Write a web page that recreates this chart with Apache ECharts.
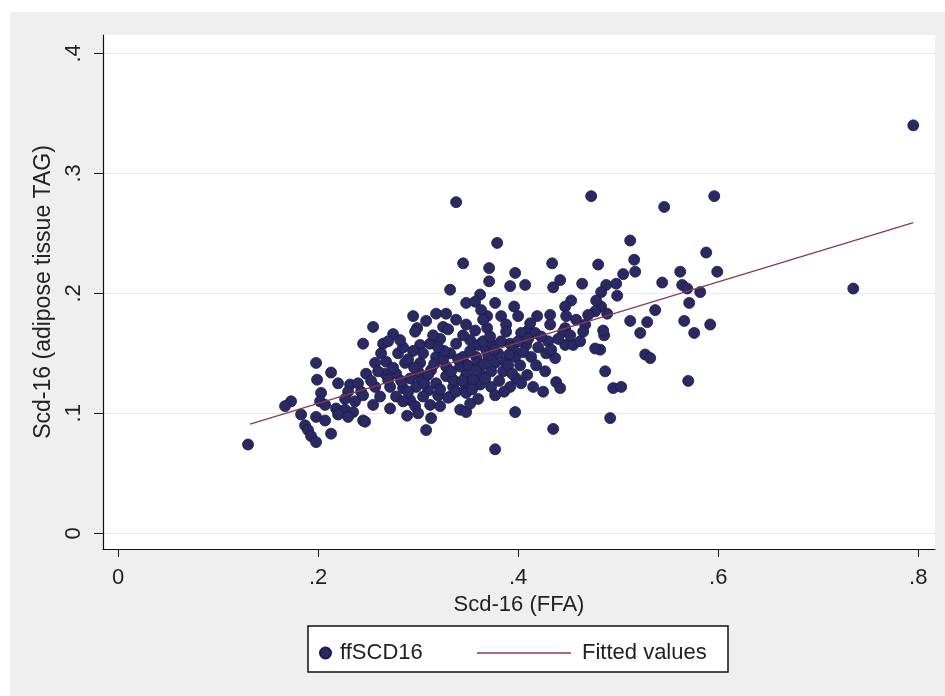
<!DOCTYPE html>
<html><head><meta charset="utf-8">
<script src="https://cdn.jsdelivr.net/npm/echarts@6/dist/echarts.min.js"></script>
<style>html,body{margin:0;padding:0;background:#fff}#c{width:945px;height:696px}</style>
</head><body><div id="c"></div>
<script>
const xTicks = [0, 0.2, 0.4, 0.6, 0.8];
const yTicks = [0, 0.1, 0.2, 0.3, 0.4];
const xTitle = 'Scd-16 (FFA)';
const yTitle = 'Scd-16 (adipose tissue TAG)';
const scatterName = 'ffSCD16';
const fitName = 'Fitted values';
// points: [FFA, TAG]
const scdPoints = [
[0.596,0.281],[0.546,0.272],[0.512,0.244],[0.588,0.234],[0.516,0.228],[0.517,0.218],[0.505,0.216],[0.498,0.208],[0.488,0.207],
[0.599,0.218],[0.562,0.218],[0.544,0.209],[0.564,0.207],[0.569,0.204],[0.582,0.201],[0.735,0.204],[0.499,0.198],[0.483,0.189],
[0.489,0.183],[0.537,0.186],[0.571,0.192],[0.512,0.177],[0.529,0.176],[0.566,0.177],[0.592,0.174],[0.522,0.167],[0.576,0.167],
[0.486,0.165],[0.482,0.153],[0.527,0.149],[0.532,0.146],[0.487,0.135],[0.570,0.127],[0.495,0.121],[0.503,0.122],[0.795,0.340],
[0.338,0.276],[0.473,0.281],
[0.379,0.242],[0.434,0.225],[0.480,0.224],[0.371,0.221],[0.397,0.217],[0.371,0.210],[0.392,0.206],[0.407,0.207],[0.442,0.211],
[0.435,0.205],[0.464,0.208],[0.483,0.201],[0.377,0.192],[0.396,0.189],[0.400,0.181],[0.383,0.181],[0.388,0.174],[0.419,0.181],
[0.432,0.182],[0.453,0.194],[0.447,0.189],[0.448,0.181],[0.478,0.194],[0.477,0.185],[0.432,0.174],[0.447,0.171],[0.467,0.174],
[0.485,0.169],[0.410,0.169],[0.369,0.181],[0.369,0.171],
[0.345,0.225],[0.332,0.203],[0.362,0.199],[0.348,0.192],[0.357,0.193],[0.318,0.183],[0.328,0.183],[0.295,0.181],[0.363,0.186],
[0.365,0.178],[0.255,0.172],[0.299,0.171],[0.325,0.172],[0.348,0.174],[0.357,0.169],[0.275,0.166],
[0.245,0.158],[0.198,0.142],[0.213,0.134],[0.199,0.128],[0.220,0.125],[0.232,0.124],[0.240,0.125],[0.230,0.118],[0.243,0.118],
[0.203,0.117],[0.173,0.110],[0.167,0.106],[0.202,0.110],[0.207,0.107],[0.218,0.104],[0.227,0.103],[0.235,0.101],[0.220,0.099],
[0.230,0.097],[0.245,0.094],[0.183,0.099],[0.198,0.097],[0.207,0.094],[0.187,0.090],[0.190,0.086],[0.193,0.081],[0.213,0.083],
[0.198,0.076],[0.130,0.074],
[0.297,0.168],[0.265,0.158],[0.302,0.157],[0.312,0.158],[0.322,0.162],[0.338,0.158],[0.352,0.161],[0.360,0.157],[0.332,0.150],
[0.345,0.147],[0.358,0.147],[0.368,0.153],[0.257,0.142],[0.268,0.143],[0.287,0.142],[0.302,0.142],[0.313,0.136],[0.328,0.139],
[0.342,0.139],[0.248,0.133],[0.267,0.133],[0.278,0.133],[0.292,0.129],[0.303,0.129],[0.328,0.131],[0.348,0.132],[0.362,0.133],
[0.257,0.122],[0.272,0.122],[0.285,0.121],[0.298,0.122],[0.310,0.119],[0.318,0.125],[0.335,0.122],[0.348,0.122],[0.362,0.124],
[0.245,0.115],[0.262,0.114],[0.278,0.114],[0.292,0.111],[0.305,0.114],[0.320,0.115],[0.332,0.114],[0.348,0.117],[0.255,0.107],
[0.285,0.110],[0.297,0.106],[0.312,0.107],[0.330,0.113],[0.360,0.112],[0.342,0.103],[0.348,0.101],[0.247,0.093],[0.313,0.096],
[0.308,0.086],
[0.388,0.168],[0.403,0.167],[0.417,0.167],[0.445,0.168],[0.465,0.168],[0.373,0.158],[0.392,0.158],[0.408,0.157],[0.428,0.150],
[0.447,0.157],[0.455,0.157],[0.477,0.154],[0.397,0.147],[0.413,0.147],[0.437,0.146],[0.377,0.142],[0.387,0.143],[0.373,0.135],
[0.398,0.129],[0.392,0.122],[0.403,0.125],[0.415,0.122],[0.425,0.118],[0.438,0.126],[0.442,0.121],[0.373,0.122],[0.377,0.115],
[0.397,0.101],[0.492,0.096],[0.435,0.087],[0.377,0.070],
[0.305,0.150],[0.318,0.147],[0.295,0.152],[0.325,0.145],[0.310,0.132],[0.335,0.128],[0.340,0.145],[0.300,0.135],[0.290,0.145],
[0.280,0.150],[0.270,0.128],[0.260,0.135],[0.350,0.140],[0.355,0.128],[0.360,0.142],[0.370,0.148],[0.380,0.150],[0.385,0.135],
[0.390,0.140],[0.395,0.155],[0.400,0.160],[0.410,0.162],[0.420,0.155],[0.430,0.160],[0.365,0.160],[0.345,0.165],[0.330,0.170],
[0.315,0.165],[0.285,0.155],[0.270,0.160],
[0.275,0.138],[0.283,0.127],[0.290,0.118],[0.296,0.138],[0.306,0.125],[0.316,0.141],[0.322,0.120],[0.326,0.152],[0.333,0.135],
[0.338,0.118],[0.344,0.127],[0.352,0.152],[0.354,0.120],[0.358,0.136],[0.366,0.141],[0.367,0.129],[0.372,0.164],[0.376,0.153],
[0.381,0.127],[0.383,0.160],[0.386,0.118],[0.391,0.149],[0.394,0.133],[0.402,0.140],[0.405,0.151],[0.409,0.132],[0.412,0.175],
[0.418,0.140],[0.423,0.164],[0.427,0.135],[0.433,0.153],[0.440,0.162],[0.452,0.165],[0.458,0.178],[0.462,0.160],[0.470,0.182],
[0.282,0.161],[0.308,0.177],[0.320,0.155],[0.338,0.178],[0.253,0.127],[0.263,0.150],[0.237,0.110],[0.227,0.112],[0.300,0.100],
[0.322,0.106],[0.352,0.108],[0.272,0.104],[0.289,0.098]
];
const fitEnds = [[0.132,0.091],[0.795,0.259]];

const chart = echarts.init(document.getElementById('c'), null, {renderer:'canvas'});
const FONT = 'Liberation Sans, Arial, sans-serif';
const fmt = v => (v === 0 ? '0' : String(+v.toFixed(1)).replace(/^0/, ''));
chart.setOption({
  backgroundColor: '#ffffff',
  animation: false,
  graphic: [
    {type:'rect', z:-10, shape:{x:10, y:12, width:935, height:684}, style:{fill:'#efefef'}},
    {type:'rect', z:5, shape:{x:308, y:626, width:420, height:46}, style:{fill:'#ffffff', stroke:'#111', lineWidth:1.5}}
  ],
  grid: {left:103, right:10, top:35, bottom:147, show:true, backgroundColor:'#ffffff', borderWidth:0},
  xAxis: {
    type:'value', min:-0.015, max:0.8167,
    name: xTitle, nameLocation:'middle', nameGap:41,
    nameTextStyle:{fontFamily:FONT, fontSize:22, color:'#222'},
    axisLine:{show:true, onZero:false, lineStyle:{color:'#111', width:1.2}},
    axisTick:{show:true, length:8, customValues:xTicks, lineStyle:{color:'#111'}},
    axisLabel:{customValues:xTicks, formatter:fmt, fontFamily:FONT, fontSize:22, color:'#222', margin:18},
    splitLine:{show:false}
  },
  yAxis: {
    type:'value', min:-0.0131, max:0.4153,
    name: yTitle, nameLocation:'middle', nameGap:48, nameRotate:90,
    nameTextStyle:{fontFamily:FONT, fontSize:23, color:'#222'},
    axisLine:{show:true, onZero:false, lineStyle:{color:'#111', width:1.2}},
    axisTick:{show:true, length:9, customValues:yTicks, lineStyle:{color:'#111'}},
    axisLabel:{customValues:yTicks, formatter:fmt, rotate:90, fontFamily:FONT, fontSize:22, color:'#222', margin:18},
    splitLine:{show:true, lineStyle:{color:'#e9e9e9', width:1}}
  },
  legend: [
    {data:[{name:scatterName, icon:'circle'}], left:314, top:637, itemWidth:11, itemHeight:11, itemGap:0, z:10,
     textStyle:{fontFamily:FONT, fontSize:22, color:'#222', padding:[0,0,0,4]}},
    {data:[{name:fitName, icon:'rect', itemStyle:{color:'#8c3b4c'}}], left:472, top:637, itemWidth:94, itemHeight:1.5, z:10,
     textStyle:{fontFamily:FONT, fontSize:22, color:'#222', padding:[0,0,0,6]}}
  ],
  series: [
    {name:scatterName, type:'scatter', symbol:'circle', symbolSize:11,
     itemStyle:{color:'#2a2964', borderColor:'#1b1a48', borderWidth:0.8, opacity:1},
     data: scdPoints, z:2},
    {name:fitName, type:'line', data: fitEnds, symbol:'none', showSymbol:false,
     lineStyle:{color:'#8c3b4c', width:1.3}, itemStyle:{color:'#8c3b4c'}, z:3}
  ]
});
</script></body></html>
